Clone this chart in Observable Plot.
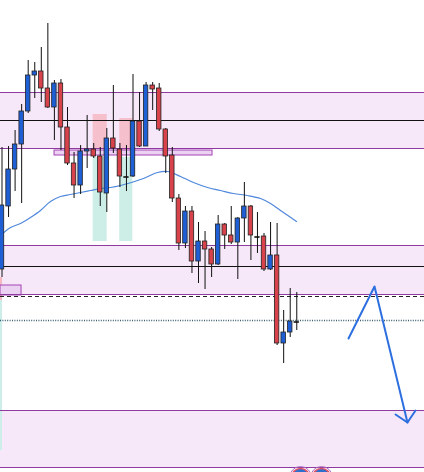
<!DOCTYPE html>
<html>
<head>
<meta charset="utf-8">
<script src="https://cdn.jsdelivr.net/npm/d3@7"></script>
<script src="https://cdn.jsdelivr.net/npm/@observablehq/plot@0.6"></script>
<style>
html,body{margin:0;padding:0;background:#fff;overflow:hidden;}
#chart svg{display:block;}
</style>
</head>
<body>
<div id="chart"></div>
<script>
// Candle OHLC values (index 0..45)
const opens  = [231,294,331,356,389,425,429,412,393,417,373,337,315,349,351,344,307,362,351,324.5,324,379,354,415,412,371,345,302,257,289,239,259,251,236,276,265,258,282,294,264.5,264,231,245,157,168,179.5];
const highs  = [353,354,370,396,440,438,453,477,420,421,393,348,355,385,357,353,372,415,357,355,426,408,418,418,417,372,353,306,294,294,278,269,253,285,277,294,283,318,295,288,267,278,277,190,212,208];
const lows   = [223,283,309,297,387,402,398,392,360,350,335,302,306,332,342,294,288,347,313,309,323,353,354,390,369,327,298,250,252,227,217,211,223,235,251,256,221,258,240,247,229,230,155,137,163,170];
const closes = [295,331,356,389,425,429,412,393,417,373,337,315,349,351,344,308,362,352,324,323.5,379,354,415,411,371,344,302,257,289,239,259,251,236,276,265,258,282,294,265,263.5,231,245,157,168,179,178.5];

// Moving average (index, value)
const maX = [-0.23,1.3,2.82,4.35,5.88,7.4,8.93,10.46,11.98,13.51,15.04,16.56,18.09,21.6,23.74,25.27,27.25,29.24,31.37,33.36,35.34,37.48,39.47,41.0,42.52,44.96];
const maY = [265,273,277,283,290,299,304,306,308,310,312,313,315,322,328,329,324,318,313,310,307,305,302,297,290,279];

// Horizontal zones [low, high]
const zoneLows  = [352,206,33];
const zoneHighs = [408,255,90];
const midLines  = [380,234];
const dashedLevel = [204];
const dottedLevel = [180];

// Small boxes: x1,x2,low,high
const boxX1 = [8.02,-0.23];
const boxX2 = [32.14,2.98];
const boxLo = [345,205];
const boxHi = [350,215];

// Highlight columns: x1,x2, pink lo/hi, green lo/hi
const colX1 = [13.92,17.98];
const colX2 = [16.06,19.97];
const pinkLo = [352,350];
const pinkHi = [386,382];
const greenLo = [259,259];
const greenHi = [343,343];

// Left-edge partial columns
const edgeX1 = [-0.23,-0.23];
const edgeX2 = [0.08,0.08];
const edgeLo = [200,50];
const edgeHi = [223,200];
const edgeFill = ["#f6b9c2","#cdeee8"];

// Arrow path (index, price)
const arrowX = [52.9,56.87,61.9];
const arrowY = [162,214,78];
const headX = [60.08,61.9,63.13];
const headY = [86,78,90];

// Bottom icons
const iconX = [45.57,48.78];
const iconY = [23,23];

const candles = opens.map((o,i)=>({i, open:o, high:highs[i], low:lows[i], close:closes[i]}));
const bodies = candles.filter(d=>Math.abs(d.close-d.open)>=1.5);
const dojis = candles.filter(d=>Math.abs(d.close-d.open)<1.5);
const ma = maX.map((x,k)=>({x, y:maY[k]}));
const zones = zoneLows.map((lo,k)=>({lo, hi:zoneHighs[k]}));
const boxes = boxX1.map((x1,k)=>({x1, x2:boxX2[k], lo:boxLo[k], hi:boxHi[k]}));
const cols = colX1.map((x1,k)=>({x1, x2:colX2[k], plo:pinkLo[k], phi:pinkHi[k], glo:greenLo[k], ghi:greenHi[k]}));
const edges = edgeX1.map((x1,k)=>({x1, x2:edgeX2[k], lo:edgeLo[k], hi:edgeHi[k], fill:edgeFill[k]}));
const arrow = arrowX.map((x,k)=>({x, y:arrowY[k]}));
const head = headX.map((x,k)=>({x, y:headY[k]}));
const icons = iconX.map((x,k)=>({x, y:iconY[k]}));

const X0 = -0.229, X1 = 64.5;
const zoneBorders = zones.flatMap(z=>[z.lo,z.hi]);

const chart = Plot.plot({
  width: 424,
  height: 472,
  margin: 0,
  x: {domain:[X0,X1], axis:null},
  y: {domain:[28,500], axis:null},
  marks: [
    Plot.rect(zones, {x1:X0, x2:X1, y1:"lo", y2:"hi", fill:"#f6e8f8"}),
    Plot.rect(cols, {x1:"x1", x2:"x2", y1:"glo", y2:"ghi", fill:"#c8ece4", fillOpacity:0.9}),
    Plot.rect(cols, {x1:"x1", x2:"x2", y1:"plo", y2:"phi", fill:"#f4a9b4", fillOpacity:0.65}),
    Plot.rect(edges, {x1:"x1", x2:"x2", y1:"lo", y2:"hi", fill:"fill"}),
    Plot.rect(boxes, {x1:"x1", x2:"x2", y1:"lo", y2:"hi", fill:"#ecd2f2", stroke:"#a444b4", strokeWidth:1}),
    Plot.ruleY(zoneBorders, {stroke:"#8e3a9e", strokeWidth:1.2}),
    Plot.ruleY(midLines, {stroke:"#111", strokeWidth:1}),
    Plot.ruleY(dashedLevel, {stroke:"#222", strokeWidth:1, strokeDasharray:"4,3"}),
    Plot.ruleY(dottedLevel, {stroke:"#3c5d6e", strokeWidth:1.6, strokeDasharray:"1,1.4"}),
    Plot.line(ma, {x:"x", y:"y", stroke:"#4f88dc", strokeWidth:1.2, curve:"catmull-rom"}),
    Plot.ruleX(candles, {x:"i", y1:"low", y2:"high", stroke:"#111", strokeWidth:1}),
    Plot.rect(bodies, {x1:d=>d.i-0.34, x2:d=>d.i+0.34, y1:"open", y2:"close",
      fill:d=>d.close>d.open?"#1f5fd6":"#d8424b", stroke:"#222", strokeWidth:0.8}),
    Plot.ruleY(dojis, {x1:d=>d.i-0.4, x2:d=>d.i+0.4, y:"close", stroke:"#111", strokeWidth:1.6}),
    Plot.line(arrow, {x:"x", y:"y", stroke:"#2e6fe0", strokeWidth:2}),
    Plot.line(head, {x:"x", y:"y", stroke:"#2e6fe0", strokeWidth:2}),
    Plot.dot(icons, {x:"x", y:"y", r:9, fill:"#2d6fcf", stroke:"#e05566", strokeWidth:1.5}),
    Plot.dot(icons, {x:"x", y:"y", r:11, fill:"none", stroke:"#b070c8", strokeWidth:1})
  ]
});
document.getElementById("chart").appendChild(chart);
</script>
</body>
</html>
